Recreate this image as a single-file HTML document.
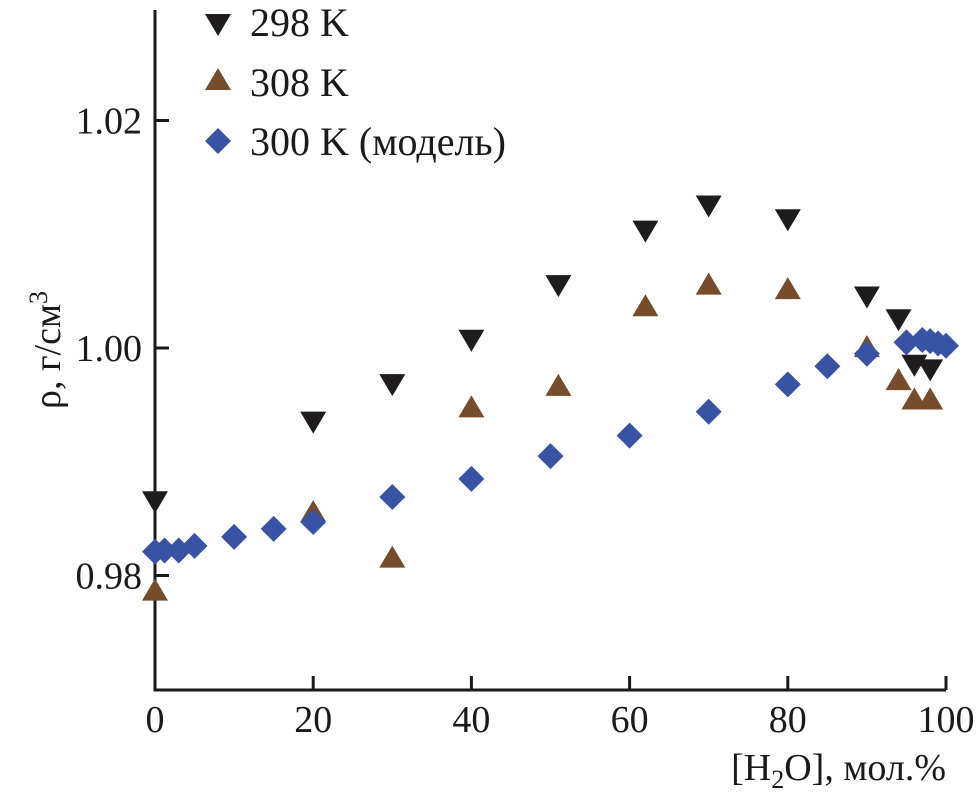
<!DOCTYPE html>
<html><head><meta charset="utf-8"><style>
body{margin:0;background:#fff}
svg text{font-family:"Liberation Serif","DejaVu Serif",serif;fill:#1a1a1a}
</style></head><body>
<svg id="chart" width="980" height="796" viewBox="0 0 980 796" font-family="Liberation Serif, DejaVu Serif, serif">
<g id="axes"></g><g id="marks"></g><g id="legend"></g>
</svg>
<script>
const xTicks=[0,20,40,60,80,100];
const yTicks=[0.98,1.00,1.02];
const yTickLabels=["0.98","1.00","1.02"];
const x298=[0,20,30,40,51,62,70,80,90,94,96,98];
const y298=[0.9867,0.9937,0.9970,1.0009,1.0057,1.0105,1.0127,1.0115,1.0047,1.0027,0.9987,0.9983];
const x308=[0,20,30,40,51,62,70,80,90,94,96,98];
const y308=[0.9785,0.9854,0.9814,0.9946,0.9965,1.0035,1.0054,1.0050,0.9999,0.9970,0.9953,0.9953];
const xModel=[0,1.2,3,5,10,15,20,30,40,50,60,70,80,85,90,95,97,98,99,100];
const yModel=[0.9821,0.9822,0.9822,0.9826,0.9834,0.9841,0.9847,0.9869,0.9885,0.9905,0.9923,0.9944,0.9968,0.9984,0.9995,1.0005,1.0007,1.0006,1.0004,1.0002];
const NS="http://www.w3.org/2000/svg";
const X=v=>155+v*7.91;
const Y=v=>348-(v-1.0)*11375;
function mk(t,a,p){const e=document.createElementNS(NS,t);for(const k in a)e.setAttribute(k,a[k]);p.appendChild(e);return e;}
const axes=document.getElementById('axes'),marks=document.getElementById('marks'),leg=document.getElementById('legend');
const ax=mk('path',{d:'M155,10 V690 H946',fill:'none',stroke:'#1a1a1a','stroke-width':3},axes);


xTicks.forEach(v=>{
 const t=mk('line',{x1:X(v),x2:X(v),y1:690,y2:676,stroke:'#1a1a1a','stroke-width':3},axes);
 
 
 const l=mk('text',{x:X(v),y:732,'text-anchor':'middle','font-size':38},axes);l.textContent=v;
 
 
});
yTicks.forEach((v,i)=>{
 const t=mk('line',{x1:155,x2:169,y1:Y(v),y2:Y(v),stroke:'#1a1a1a','stroke-width':3},axes);
 
 
 const l=mk('text',{x:142,y:Y(v)+13,'text-anchor':'end','font-size':38},axes);l.textContent=yTickLabels[i];
 
 
});
const xt=mk('text',{x:946,y:780,'text-anchor':'end','font-size':38},axes);
xt.innerHTML='[H<tspan font-size="26" dy="8">2</tspan><tspan dy="-8">O], мол.%</tspan>';


const yt=mk('text',{transform:'translate(60,350) rotate(-90)','text-anchor':'middle','font-size':38},axes);
yt.innerHTML='ρ, г/см<tspan font-size="26" dy="-13">3</tspan>';


function down(cx,cy,c,p){return mk('polygon',{points:`${cx-13},${cy-8} ${cx+13},${cy-8} ${cx},${cy+14}`,fill:c},p);}
function up(cx,cy,c,p){return mk('polygon',{points:`${cx-13},${cy+8} ${cx+13},${cy+8} ${cx},${cy-14}`,fill:c},p);}
function dia(cx,cy,c,p){return mk('polygon',{points:`${cx-13},${cy} ${cx},${cy-13} ${cx+13},${cy} ${cx},${cy+13}`,fill:c},p);}
const C298='#1e1c1c',C308='#764c2a',CM='#3953a4';
x298.forEach((v,i)=>{const e=down(X(v),Y(y298[i]),C298,marks);
 
 });
x308.forEach((v,i)=>{const e=up(X(v),Y(y308[i]),C308,marks);
 
 });
xModel.forEach((v,i)=>{const e=dia(X(v),Y(yModel[i]),CM,marks);
 
 });
const items=[['298 K',down,C298,22],['308 K',up,C308,82],['300 K (модель)',dia,CM,141]];
items.forEach(([t,f,c,y])=>{
 const g=mk('g',{},leg);
 
 
 f(218,y,c,g);
 const l=mk('text',{x:250,y:y+14,'font-size':40},g);l.textContent=t;
});
</script>
</body></html>
